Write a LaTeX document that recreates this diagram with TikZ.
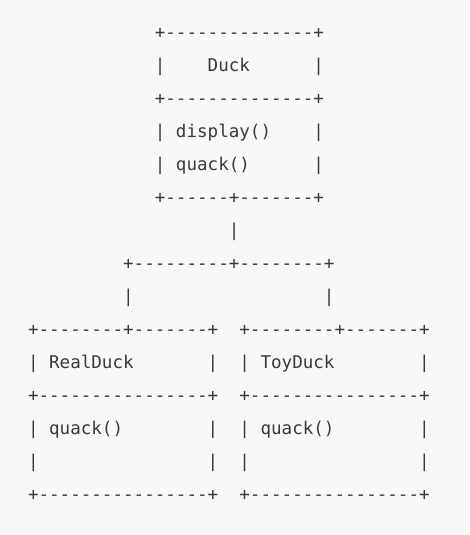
\documentclass[tikz,border=0pt]{standalone}
\usepackage{fontspec}
\setmonofont{DejaVu Sans Mono}
\definecolor{bg}{HTML}{F8F8F8}
\definecolor{ink}{HTML}{363940}
\begin{document}
\begin{tikzpicture}[x=10.57pt,y=-33pt,
  asc/.style={anchor=base west, inner sep=0pt, outer sep=0pt, text=ink,
    font=\ttfamily\fontsize{17.56pt}{20pt}\selectfont}]
\useasboundingbox (0pt,0pt) rectangle (469pt,-535pt);
\fill[bg] (0pt,0pt) rectangle (469pt,-535pt);
\begin{scope}[shift={(28pt,-38.7pt)}]
% Duck box
\node[asc] (duckTop) at (12,0) {+--------------+};
\node[asc] (duckL1) at (12,1) {|};
\node[asc] (duckName) at (17,1) {Duck};
\node[asc] (duckR1) at (27,1) {|};
\node[asc] (duckMid) at (12,2) {+--------------+};
\node[asc] (duckL2) at (12,3) {|};
\node[asc] (duckDisplay) at (14,3) {display()};
\node[asc] (duckR2) at (27,3) {|};
\node[asc] (duckL3) at (12,4) {|};
\node[asc] (duckQuack) at (14,4) {quack()};
\node[asc] (duckR3) at (27,4) {|};
\node[asc] (duckBot) at (12,5) {+------+-------+};
% connectors
\node[asc] (stem) at (19,6) {|};
\node[asc] (branch) at (9,7) {+---------+--------+};
\node[asc] (legL) at (9,8) {|};
\node[asc] (legR) at (28,8) {|};
% RealDuck box
\node[asc] (realTop) at (0,9) {+--------+-------+};
\node[asc] (realL1) at (0,10) {|};
\node[asc] (realName) at (2,10) {RealDuck};
\node[asc] (realR1) at (17,10) {|};
\node[asc] (realMid) at (0,11) {+----------------+};
\node[asc] (realL2) at (0,12) {|};
\node[asc] (realQuack) at (2,12) {quack()};
\node[asc] (realR2) at (17,12) {|};
\node[asc] (realL3) at (0,13) {|};
\node[asc] (realR3) at (17,13) {|};
\node[asc] (realBot) at (0,14) {+----------------+};
% ToyDuck box
\node[asc] (toyTop) at (20,9) {+--------+-------+};
\node[asc] (toyL1) at (20,10) {|};
\node[asc] (toyName) at (22,10) {ToyDuck};
\node[asc] (toyR1) at (37,10) {|};
\node[asc] (toyMid) at (20,11) {+----------------+};
\node[asc] (toyL2) at (20,12) {|};
\node[asc] (toyQuack) at (22,12) {quack()};
\node[asc] (toyR2) at (37,12) {|};
\node[asc] (toyL3) at (20,13) {|};
\node[asc] (toyR3) at (37,13) {|};
\node[asc] (toyBot) at (20,14) {+----------------+};
\end{scope}
\end{tikzpicture}
\end{document}
